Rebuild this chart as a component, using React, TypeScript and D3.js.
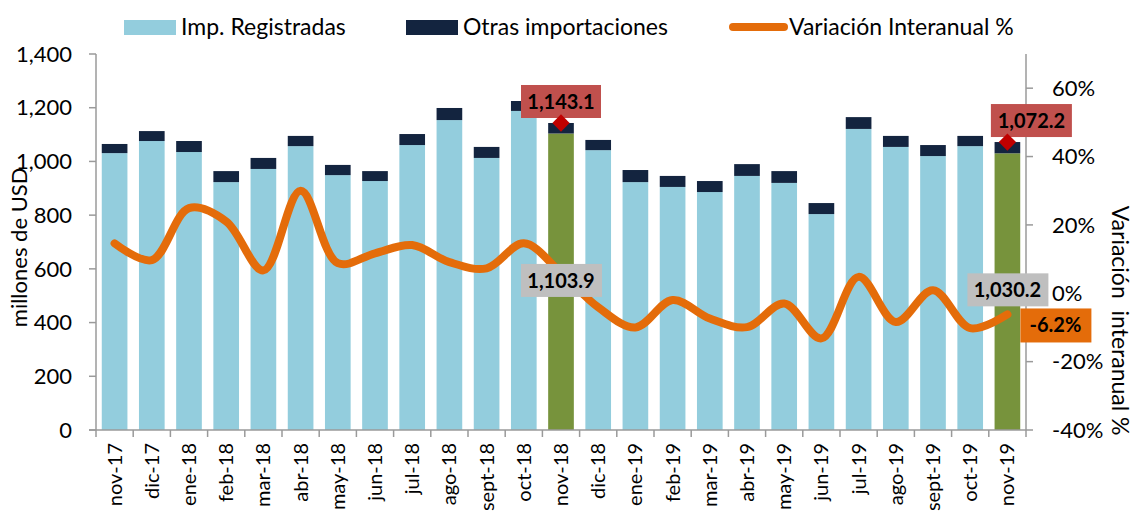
import React from 'react';
import * as d3 from 'd3';

// months on the category axis
const months = [
  'nov-17', 'dic-17', 'ene-18', 'feb-18', 'mar-18', 'abr-18', 'may-18', 'jun-18',
  'jul-18', 'ago-18', 'sept-18', 'oct-18', 'nov-18', 'dic-18', 'ene-19', 'feb-19',
  'mar-19', 'abr-19', 'may-19', 'jun-19', 'jul-19', 'ago-19', 'sept-19', 'oct-19', 'nov-19',
];
// millones de USD
const registradas = [
  1031, 1076, 1035, 923, 972, 1057, 949, 927, 1061, 1154, 1013, 1188, 1103.9,
  1042, 923, 905, 886, 946, 920, 804, 1121, 1054, 1020, 1057, 1030.2,
];
const otras = [
  34, 37, 41, 41, 41, 38, 38, 37, 41, 45, 41, 37, 39.2,
  38, 45, 41, 41, 44, 44, 41, 44, 41, 41, 38, 42.0,
];
// variación interanual %
const variacion = [
  14.6, 9.7, 24.9, 21, 6.7, 30, 8.8, 11.7, 14.1, 9.1, 7.3, 14.6, 6,
  -4.1, -10, -2, -7.4, -9.9, -3, -13.2, 4.8, -8.4, 0.9, -10.2, -6.2,
];
const highlighted = ['nov-18', 'nov-19'];
const leftTicks = [0, 200, 400, 600, 800, 1000, 1200, 1400];
const rightTicks = [-40, -20, 0, 20, 40, 60];

const W = 1134;
const H = 516;
const m = { top: 54, right: 108, bottom: 86, left: 96 };
const font = 'Lato, "Open Sans", sans-serif';

const C = {
  light: '#93CDDD',
  dark: '#13243F',
  green: '#77933C',
  line: '#E46C0A',
  red: '#C0504D',
  diamond: '#C00000',
  gray: '#BFBFBF',
  axis: '#9A9A9A',
};

export default function App() {
  const x = d3.scaleBand<string>()
    .domain(months)
    .range([m.left, W - m.right])
    .paddingInner(0.31)
    .paddingOuter(0.155);
  const yL = d3.scaleLinear().domain([0, 1400]).range([H - m.bottom, m.top]);
  const yR = d3.scaleLinear().domain([-40, 70]).range([H - m.bottom, m.top]);
  const step = x.step();
  const bw = x.bandwidth();
  const cx = (mo: string) => (x(mo) as number) + bw / 2;
  const y0 = yL(0);
  const fmt = d3.format(',.1f');

  const line = d3.line<number>()
    .x((_, i) => cx(months[i]))
    .y((d) => yR(d))
    .curve(d3.curveCatmullRom.alpha(0.5));

  const tickXs = d3.range(months.length + 1).map((i) => m.left + i * step);

  // annotations: total on top (red), registered (gray)
  const i18 = months.indexOf('nov-18');
  const i19 = months.indexOf('nov-19');
  const redLabels = [
    { i: i18, dx: 0, w: 80 },
    { i: i19, dx: 24, w: 81 },
  ];
  const grayLabels = [
    { i: i18, dx: 0, v: 555 },
    { i: i19, dx: 0, v: 520 },
  ];

  const diamond = d3.symbol().type(d3.symbolDiamond2).size(190)();

  return (
    <svg width={W} height={H} style={{ position: 'absolute', left: 0, top: 0, background: '#fff' }}
      fontFamily={font}>
      {/* legend */}
      <g fontSize={23} fill="#000">
        <rect x={124} y={20} width={52} height={15} fill={C.light} />
        <text x={181} y={35}>Imp. Registradas</text>
        <rect x={406} y={20} width={52} height={15} fill={C.dark} />
        <text x={463} y={35}>Otras importaciones</text>
        <line x1={733} x2={784} y1={27} y2={27} stroke={C.line} strokeWidth={8} strokeLinecap="round" />
        <text x={789} y={35}>Variación Interanual %</text>
      </g>

      {/* bars */}
      {months.map((mo, i) => {
        const total = registradas[i] + otras[i];
        const hi = highlighted.includes(mo);
        return (
          <g key={mo}>
            <rect x={x(mo)} y={yL(registradas[i])} width={bw} height={y0 - yL(registradas[i])}
              fill={hi ? C.green : C.light} />
            <rect x={x(mo)} y={yL(total)} width={bw} height={yL(registradas[i]) - yL(total)} fill={C.dark} />
          </g>
        );
      })}

      {/* line */}
      <path d={line(variacion) || ''} fill="none" stroke={C.line} strokeWidth={8} strokeLinecap="round" />

      {/* axes */}
      <g stroke={C.axis} strokeWidth={1.5}>
        <line x1={m.left} x2={m.left} y1={m.top} y2={y0} />
        {leftTicks.map((t) => (
          <line key={t} x1={m.left - 7} x2={m.left} y1={yL(t)} y2={yL(t)} />
        ))}
        <line x1={W - m.right} x2={W - m.right} y1={m.top} y2={y0} />
        {rightTicks.map((t) => (
          <line key={t} x1={W - m.right} x2={W - m.right + 7} y1={yR(t)} y2={yR(t)} />
        ))}
        <line x1={m.left - 7} x2={W - m.right} y1={y0} y2={y0} />
        {tickXs.map((t) => (
          <line key={t} x1={t} x2={t} y1={y0} y2={y0 + 7} />
        ))}
      </g>
      <g fontSize={22} fill="#000">
        {leftTicks.map((t) => (
          <text key={t} x={72} y={yL(t)} dy="0.35em" textAnchor="end">{d3.format(',')(t)}</text>
        ))}
        {rightTicks.map((t) => (
          <text key={t} x={W - m.right + 26} y={yR(t)} dy="0.35em">{t}%</text>
        ))}
      </g>
      <g fontSize={20} fill="#000">
        {months.map((mo) => (
          <text key={mo} transform={`translate(${cx(mo)},${y0 + 13}) rotate(-90)`} dy="0.35em" textAnchor="end">
            {mo}
          </text>
        ))}
      </g>
      <text transform={`translate(19,${yL(680)}) rotate(-90)`} textAnchor="middle" dy="0.35em" fontSize={22}>
        millones de USD
      </text>
      <text transform={`translate(1120,${yR(-8)}) rotate(90)`} textAnchor="middle" dy="0.35em" fontSize={23}
        xmlSpace="preserve">
        Variación  interanual %
      </text>

      {/* data labels */}
      {redLabels.map(({ i, dx, w }) => {
        const total = registradas[i] + otras[i];
        const ty = yL(total);
        const lx = cx(months[i]) + dx;
        return (
          <g key={'r' + i}>
            <rect x={lx - w / 2} y={ty - 38} width={w} height={33} fill={C.red} />
            <text x={lx} y={ty - 21} dy="0.35em" textAnchor="middle" fontSize={20} fontWeight="bold">
              {fmt(total)}
            </text>
            <path d={diamond || ''} transform={`translate(${cx(months[i])},${ty})`} fill={C.diamond} />
          </g>
        );
      })}
      {grayLabels.map(({ i, dx, v }) => {
        const lx = cx(months[i]) + dx;
        const ly = yL(v);
        return (
          <g key={'g' + i}>
            <rect x={lx - 40} y={ly - 17} width={81} height={33} fill={C.gray} />
            <text x={lx} y={ly} dy="0.35em" textAnchor="middle" fontSize={20} fontWeight="bold">
              {fmt(registradas[i])}
            </text>
          </g>
        );
      })}
      {(() => {
        const last = variacion.length - 1;
        const px = cx(months[last]);
        const py = yR(variacion[last]);
        return (
          <g>
            <rect x={px + 13} y={py - 6} width={71} height={34} fill={C.line} />
            <text x={px + 48} y={py + 11} dy="0.35em" textAnchor="middle" fontSize={20} fontWeight="bold">
              {variacion[last].toFixed(1)}%
            </text>
          </g>
        );
      })()}
    </svg>
  );
}
